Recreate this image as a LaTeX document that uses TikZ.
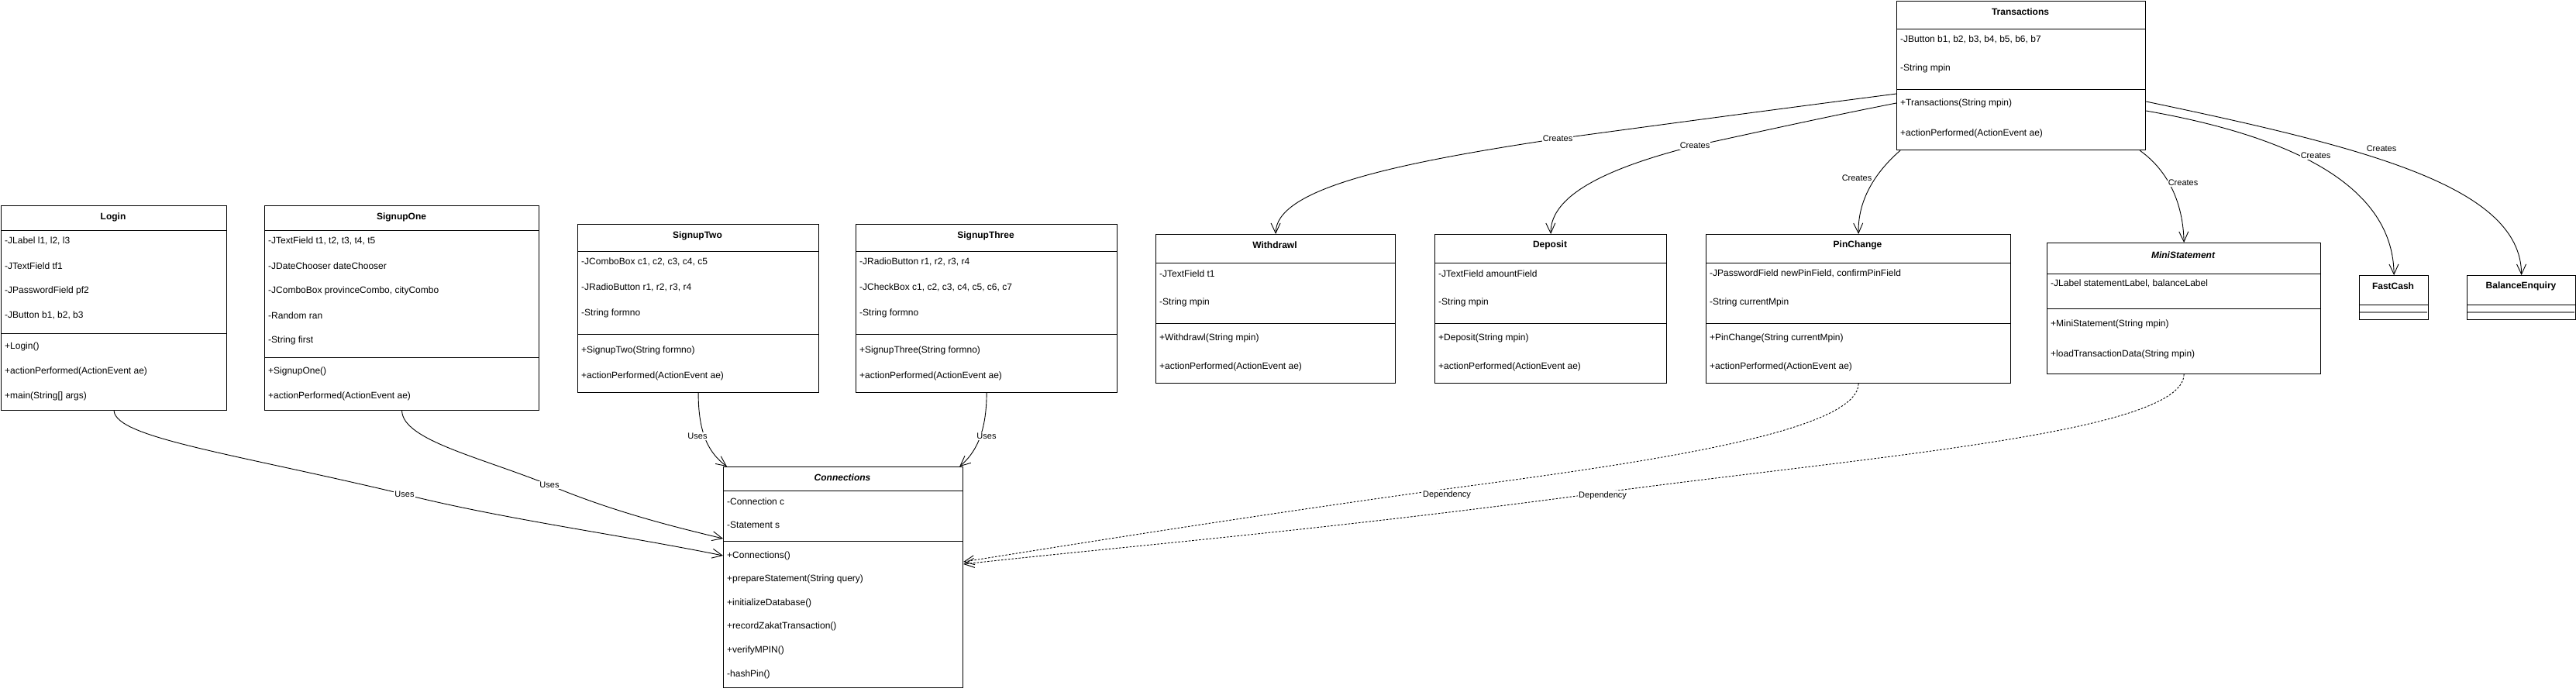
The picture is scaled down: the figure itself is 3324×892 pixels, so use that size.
\documentclass[tikz,border=0pt]{standalone}
\usepackage{fontspec}
\setmainfont{Liberation Sans}
\usetikzlibrary{arrows.meta}
\newcommand{\classbox}[5]{\node[box, minimum width={#4-#2}, minimum height={#5-#3}] (#1) at (#2,#3) {};}
\newcommand{\hsep}[3]{\draw[sep] (#1,#3) -- (#2,#3);}
\begin{document}
\begin{tikzpicture}[x=1pt,y=-1pt,
  box/.style={draw, line width=1.2pt, rectangle, inner sep=0pt, anchor=north west},
  ttl/.style={font=\fontsize{12}{14}\selectfont\bfseries, inner sep=0pt},
  ittl/.style={font=\fontsize{12}{14}\selectfont\bfseries\itshape, inner sep=0pt},
  mem/.style={font=\fontsize{12}{14}\selectfont, anchor=west, inner sep=0pt},
  lbl/.style={font=\fontsize{11}{13}\selectfont, fill=white, inner sep=1pt},
  rel/.style={line width=0.9pt, -{Straight Barb[length=13pt,width=12pt,line width=0.9pt]}},
  dep/.style={rel, dash pattern=on 2.5pt off 2pt},
  sep/.style={line width=1pt},
  gsep/.style={line width=2pt, draw=gray}
]
\useasboundingbox (0,0) rectangle (3324,892);

% ---------- Login
\classbox{login}{1}{265}{292}{529}
\hsep{1}{292}{297}\hsep{1}{292}{430}
\node[ttl] (login-t) at (146,280) {Login};
\node[mem] (login-a1) at (6,311) {-JLabel l1, l2, l3};
\node[mem] (login-a2) at (6,343) {-JTextField tf1};
\node[mem] (login-a3) at (6,375) {-JPasswordField pf2};
\node[mem] (login-a4) at (6,407) {-JButton b1, b2, b3};
\node[mem] (login-m1) at (6,447) {+Login()};
\node[mem] (login-m2) at (6,479) {+actionPerformed(ActionEvent ae)};
\node[mem] (login-m3) at (6,511) {+main(String[] args)};

% ---------- SignupOne
\classbox{s1}{341}{265}{695}{529}
\hsep{341}{695}{297}\hsep{341}{695}{461}
\node[ttl] (s1-t) at (518,280) {SignupOne};
\node[mem] (s1-a1) at (346,311) {-JTextField t1, t2, t3, t4, t5};
\node[mem] (s1-a2) at (346,343) {-JDateChooser dateChooser};
\node[mem] (s1-a3) at (346,375) {-JComboBox provinceCombo, cityCombo};
\node[mem] (s1-a4) at (346,407) {-Random ran};
\node[mem] (s1-a5) at (346,439) {-String first};
\node[mem] (s1-m1) at (346,479) {+SignupOne()};
\node[mem] (s1-m2) at (346,511) {+actionPerformed(ActionEvent ae)};

% ---------- SignupTwo
\classbox{s2}{745}{289}{1056}{506}
\hsep{745}{1056}{324}\hsep{745}{1056}{431}
\node[ttl] (s2-t) at (900,304) {SignupTwo};
\node[mem] (s2-a1) at (750,338) {-JComboBox c1, c2, c3, c4, c5};
\node[mem] (s2-a2) at (750,371) {-JRadioButton r1, r2, r3, r4};
\node[mem] (s2-a3) at (750,404) {-String formno};
\node[mem] (s2-m1) at (750,452) {+SignupTwo(String formno)};
\node[mem] (s2-m2) at (750,485) {+actionPerformed(ActionEvent ae)};

% ---------- SignupThree
\classbox{s3}{1104}{289}{1441}{506}
\hsep{1104}{1441}{324}\hsep{1104}{1441}{431}
\node[ttl] (s3-t) at (1272,304) {SignupThree};
\node[mem] (s3-a1) at (1109,338) {-JRadioButton r1, r2, r3, r4};
\node[mem] (s3-a2) at (1109,371) {-JCheckBox c1, c2, c3, c4, c5, c6, c7};
\node[mem] (s3-a3) at (1109,404) {-String formno};
\node[mem] (s3-m1) at (1109,452) {+SignupThree(String formno)};
\node[mem] (s3-m2) at (1109,485) {+actionPerformed(ActionEvent ae)};

% ---------- Connections
\classbox{conn}{933}{602}{1242}{887}
\hsep{933}{1242}{633}\hsep{933}{1242}{698}
\node[ittl] (conn-t) at (1087,616) {Connections};
\node[mem] (conn-a1) at (938,647) {-Connection c};
\node[mem] (conn-a2) at (938,677) {-Statement s};
\node[mem] (conn-m1) at (938,717) {+Connections()};
\node[mem] (conn-m2) at (938,747) {+prepareStatement(String query)};
\node[mem] (conn-m3) at (938,778) {+initializeDatabase()};
\node[mem] (conn-m4) at (938,808) {+recordZakatTransaction()};
\node[mem] (conn-m5) at (938,839) {+verifyMPIN()};
\node[mem] (conn-m6) at (938,870) {-hashPin()};

% ---------- Transactions
\classbox{trans}{2447}{1}{2768}{193}
\hsep{2447}{2768}{37}\hsep{2447}{2768}{115}
\node[ttl] (trans-t) at (2607,15) {Transactions};
\node[mem] (trans-a1) at (2452,51) {-JButton b1, b2, b3, b4, b5, b6, b7};
\node[mem] (trans-a2) at (2452,88) {-String mpin};
\node[mem] (trans-m1) at (2452,133) {+Transactions(String mpin)};
\node[mem] (trans-m2) at (2452,172) {+actionPerformed(ActionEvent ae)};

% ---------- Withdrawl
\classbox{wd}{1491}{302}{1800}{494}
\hsep{1491}{1800}{339}\hsep{1491}{1800}{417}
\node[ttl] (wd-t) at (1645,316) {Withdrawl};
\node[mem] (wd-a1) at (1496,353) {-JTextField t1};
\node[mem] (wd-a2) at (1496,390) {-String mpin};
\node[mem] (wd-m1) at (1496,436) {+Withdrawl(String mpin)};
\node[mem] (wd-m2) at (1496,473) {+actionPerformed(ActionEvent ae)};

% ---------- Deposit
\classbox{dp}{1851}{302}{2150}{494}
\hsep{1851}{2150}{339}\hsep{1851}{2150}{417}
\node[ttl] (dp-t) at (2000,316) {Deposit};
\node[mem] (dp-a1) at (1856,353) {-JTextField amountField};
\node[mem] (dp-a2) at (1856,390) {-String mpin};
\node[mem] (dp-m1) at (1856,436) {+Deposit(String mpin)};
\node[mem] (dp-m2) at (1856,473) {+actionPerformed(ActionEvent ae)};

% ---------- PinChange
\classbox{pc}{2201}{302}{2594}{494}
\hsep{2201}{2594}{339}\hsep{2201}{2594}{417}
\node[ttl] (pc-t) at (2397,316) {PinChange};
\node[mem] (pc-a1) at (2206,353) {-JPasswordField newPinField, confirmPinField};
\node[mem] (pc-a2) at (2206,390) {-String currentMpin};
\node[mem] (pc-m1) at (2206,436) {+PinChange(String currentMpin)};
\node[mem] (pc-m2) at (2206,473) {+actionPerformed(ActionEvent ae)};

% ---------- MiniStatement
\classbox{ms}{2641}{313}{2994}{482}
\hsep{2641}{2994}{353}\hsep{2641}{2994}{398}
\node[ittl] (ms-t) at (2817,329) {MiniStatement};
\node[mem] (ms-a1) at (2646,366) {-JLabel statementLabel, balanceLabel};
\node[mem] (ms-m1) at (2646,418) {+MiniStatement(String mpin)};
\node[mem] (ms-m2) at (2646,457) {+loadTransactionData(String mpin)};

% ---------- FastCash
\classbox{fc}{3044}{355}{3133}{412}
\hsep{3044}{3133}{393}
\draw[gsep] (3045,403) -- (3132,403);
\node[ttl] (fc-t) at (3088,369) {FastCash};

% ---------- BalanceEnquiry
\classbox{be}{3183}{355}{3323}{412}
\hsep{3183}{3323}{393}
\draw[gsep] (3184,403) -- (3322,403);
\node[ttl] (be-t) at (3253,369) {BalanceEnquiry};

% ---------- Uses connectors
\coordinate (u1) at (522,638);
\coordinate (u2) at (709,626);
\draw[rel] (login.south) .. controls (150,565) and (300,585) .. (u1)
  .. controls (650,670) and (800,690) .. ([yshift=-115pt]conn.north west);
\draw[rel] (s1.south) .. controls (520,568) and (620,590) .. (u2)
  .. controls (790,660) and (870,680) .. ([yshift=-93pt]conn.north west);
\draw[rel] (s2.south) .. controls (901,560) and (915,585) .. ([xshift=5pt]conn.north west);
\draw[rel] (s3.south) .. controls (1273,560) and (1258,585) .. ([xshift=-5pt]conn.north east);
\node[lbl] (u1-l) at (u1) {Uses};
\node[lbl] (u2-l) at (u2) {Uses};
\node[lbl] (u3-l) at (900,563) {Uses};
\node[lbl] (u4-l) at (1273,563) {Uses};

% ---------- Dependency connectors
\coordinate (d1) at (1851,633);
\coordinate (d2) at (2050,638);
\draw[dep] (pc.south) .. controls (2397,560) and (2100,600) .. (d1)
  .. controls (1600,668) and (1400,700) .. ([yshift=-123pt]conn.north east);
\draw[dep] (ms.south) .. controls (2817,560) and (2400,590) .. (d2)
  .. controls (1700,685) and (1450,705) .. ([yshift=-126pt]conn.north east);
\node[lbl, anchor=north west] (d1-l) at (1835,632) {Dependency};
\node[lbl, anchor=north west] (d2-l) at (2036,633) {Dependency};

% ---------- Creates connectors
\coordinate (c1) at (2010,179);
\coordinate (c2) at (2187,188);
\draw[rel] ([yshift=-120pt]trans.north west) .. controls (2300,140) and (2150,160) .. (c1)
  .. controls (1790,212) and (1646,245) .. (wd.north);
\draw[rel] ([yshift=-132pt]trans.north west) .. controls (2360,150) and (2270,170) .. (c2)
  .. controls (2080,215) and (2000,250) .. (dp.north);
\draw[rel] ([xshift=5pt]trans.south west) .. controls (2420,222) and (2397,258) .. (pc.north);
\draw[rel] ([xshift=-8pt]trans.south east) .. controls (2800,222) and (2817,265) .. (ms.north);
\draw[rel] ([yshift=-142pt]trans.north east) .. controls (2980,180) and (3088,250) .. (fc.north);
\draw[rel] ([yshift=-130pt]trans.north east) .. controls (3050,190) and (3253,240) .. (be.north);
\node[lbl] (c1-l) at (c1) {Creates};
\node[lbl] (c2-l) at (c2) {Creates};
\node[lbl] (c3-l) at (2396,230) {Creates};
\node[lbl] (c4-l) at (2817,236) {Creates};
\node[lbl] (c5-l) at (2988,201) {Creates};
\node[lbl] (c6-l) at (3073,192) {Creates};
\end{tikzpicture}
\end{document}
